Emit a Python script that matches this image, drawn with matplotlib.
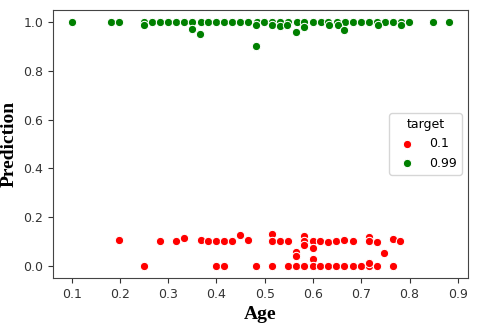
import matplotlib
matplotlib.use("Agg")
import matplotlib.pyplot as plt

# target = 0.99 group (green)
green_age = [0.100, 0.182, 0.199, 0.249, 0.266, 0.282, 0.299, 0.316, 0.332, 0.349,
             0.367, 0.383, 0.399, 0.416, 0.433, 0.449, 0.466, 0.483, 0.499, 0.516,
             0.532, 0.549, 0.566, 0.582, 0.599, 0.616, 0.632, 0.649, 0.666, 0.682,
             0.699, 0.716, 0.732, 0.749, 0.765, 0.782, 0.799, 0.848, 0.882,
             0.249, 0.349, 0.365, 0.481, 0.481, 0.516, 0.532, 0.547, 0.564, 0.581,
             0.633, 0.651, 0.665, 0.734, 0.782]
green_pred = [1.0] * 39 + [0.99, 0.971, 0.95, 0.99, 0.90, 0.99, 0.985, 0.99, 0.96, 0.98,
                           0.99, 0.99, 0.967, 0.99, 0.99]

# target = 0.1 group (red)
red_age = [0.199, 0.282, 0.316, 0.332, 0.367, 0.382, 0.398, 0.415, 0.433, 0.448,
           0.466, 0.514, 0.514, 0.532, 0.548, 0.581, 0.581, 0.581, 0.599, 0.599,
           0.615, 0.632, 0.647, 0.665, 0.682, 0.715, 0.715, 0.732, 0.765, 0.781,
           0.564, 0.564, 0.599, 0.748,
           0.249, 0.398, 0.415, 0.481, 0.514, 0.548, 0.564, 0.581, 0.599, 0.615,
           0.632, 0.647, 0.665, 0.682, 0.699, 0.715, 0.732, 0.765, 0.715]
red_pred = [0.106, 0.10, 0.10, 0.115, 0.104, 0.10, 0.10, 0.10, 0.10, 0.128,
            0.104, 0.131, 0.10, 0.10, 0.10, 0.124, 0.10, 0.087, 0.10, 0.074,
            0.10, 0.097, 0.10, 0.107, 0.10, 0.117, 0.10, 0.097, 0.111, 0.10,
            0.055, 0.04, 0.029, 0.052,
            0.0, 0.0, 0.0, 0.0, 0.0, 0.0, 0.0, 0.0, 0.0, 0.0,
            0.0, 0.0, 0.0, 0.0, 0.0, 0.0, 0.0, 0.0, 0.01]

fig = plt.figure(figsize=(4.8, 3.32), dpi=100)
ax = fig.add_axes([0.110, 0.163, 0.865, 0.807])

ax.scatter(red_age, red_pred, s=36, c="red", edgecolors="white", linewidths=0.75, label="0.1")
ax.scatter(green_age, green_pred, s=36, c="green", edgecolors="white", linewidths=0.75, label="0.99")

ax.set_xticks([0.1, 0.2, 0.3, 0.4, 0.5, 0.6, 0.7, 0.8, 0.9])
ax.set_yticks([0.0, 0.2, 0.4, 0.6, 0.8, 1.0])
ax.tick_params(labelsize=9, colors="#333333")
for sp in ax.spines.values():
    sp.set_color("#444444")

ax.set_xlabel("Age", family="Liberation Serif", fontweight="bold", fontsize=14)
ax.set_ylabel("Prediction", family="Liberation Serif", fontweight="bold", fontsize=14)

leg = ax.legend(title="target", loc="center right", fontsize=9, title_fontsize=9)

fig.savefig("out.png", dpi=100)
